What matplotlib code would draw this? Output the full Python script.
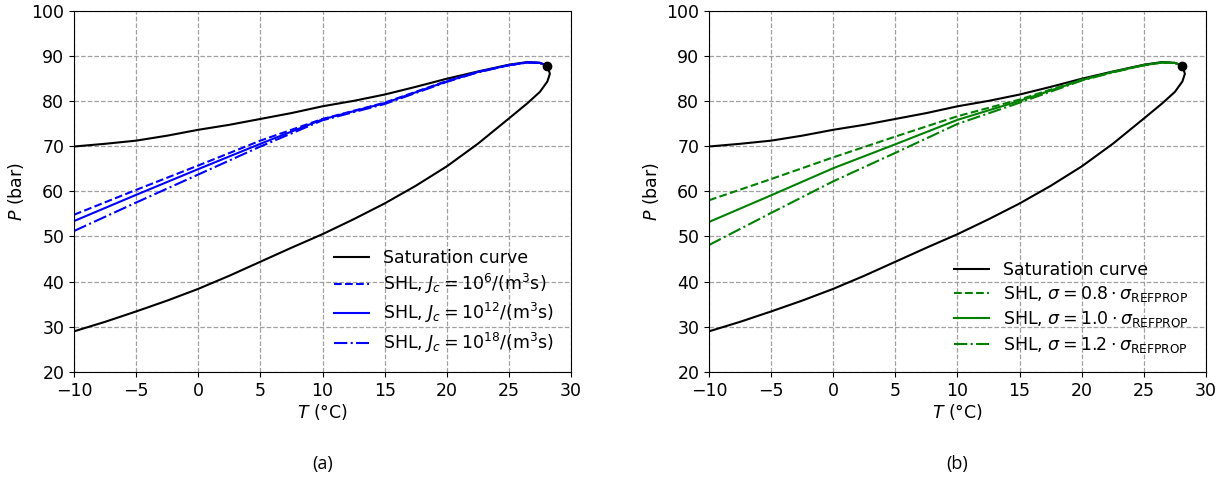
import matplotlib
matplotlib.use("Agg")
import matplotlib.pyplot as plt

# saturation envelope: lower (dew) branch up to the critical point, then upper branch back
sat_T = [-10, -7.5, -5, -2.5, 0, 2.5, 5, 7.5, 10, 12.5, 15, 17.5, 20, 22.5, 25, 26.5, 27.5, 28.1, 28.3, 28.1,
         27.5, 26.5, 25, 22.5, 20, 17.5, 15, 12.5, 10, 7.5, 5, 2.5, 0, -2.5, -5, -7.5, -10]
sat_P = [29.0, 31.1, 33.4, 35.8, 38.4, 41.3, 44.4, 47.5, 50.5, 53.8, 57.3, 61.2, 65.5, 70.5, 76.1, 79.5, 82.0, 84.3, 86.0, 87.8,
         88.4, 88.6, 88.0, 86.5, 84.9, 83.1, 81.4, 80.0, 78.8, 77.3, 76.0, 74.7, 73.6, 72.3, 71.2, 70.5, 69.9]
T_crit = 28.1
P_crit = 87.8

# SHL curves
shl_T = [-10, -5, 0, 5, 10, 15, 20, 22.5, 25, 26.5, 27.5, 28.1]
shl_Jc6 = [54.8, 60.3, 65.7, 71.2, 76.0, 79.6, 84.4, 86.4, 87.9, 88.5, 88.4, 87.8]
shl_Jc12 = [53.4, 59.2, 64.9, 70.5, 75.9, 79.5, 84.3, 86.4, 87.9, 88.5, 88.4, 87.8]
shl_Jc18 = [51.2, 57.5, 63.7, 69.9, 75.7, 79.3, 84.2, 86.3, 87.9, 88.5, 88.4, 87.8]

shl_s08 = [58.0, 62.7, 67.5, 72.1, 76.6, 80.3, 84.7, 86.4, 87.9, 88.5, 88.4, 87.8]
shl_s10 = [53.2, 59.1, 65.1, 70.4, 75.8, 80.0, 84.6, 86.4, 87.9, 88.5, 88.4, 87.8]
shl_s12 = [48.1, 55.2, 62.2, 68.5, 74.9, 79.6, 84.5, 86.3, 87.9, 88.5, 88.4, 87.8]

jc_labels = [r"SHL, $J_c = 10^{6}/(\mathrm{m}^3\mathrm{s})$",
             r"SHL, $J_c = 10^{12}/(\mathrm{m}^3\mathrm{s})$",
             r"SHL, $J_c = 10^{18}/(\mathrm{m}^3\mathrm{s})$"]
sigma_labels = [r"SHL, $\sigma = 0.8 \cdot \sigma_{\mathrm{REFPROP}}$",
                r"SHL, $\sigma = 1.0 \cdot \sigma_{\mathrm{REFPROP}}$",
                r"SHL, $\sigma = 1.2 \cdot \sigma_{\mathrm{REFPROP}}$"]
styles = ["--", "-", "-."]

plt.rcParams["font.size"] = 12.5

fig = plt.figure(figsize=(12.25, 4.84), dpi=100)
ax1 = fig.add_axes([74 / 1225, 1 - 372 / 484, 497 / 1225, 361.5 / 484])
ax2 = fig.add_axes([709 / 1225, 1 - 372 / 484, 497 / 1225, 361.5 / 484])


def draw(ax, curves, labels, color, caption):
    ax.plot(sat_T, sat_P, color="black", lw=1.5, label="Saturation curve")
    for P, ls, lab in zip(curves, styles, labels):
        ax.plot(shl_T, P, ls, color=color, lw=1.5, label=lab)
    ax.plot([T_crit], [P_crit], "o", color="black", ms=6)
    ax.set_xlim(-10, 30)
    ax.set_ylim(20, 100)
    ax.set_xticks(range(-10, 31, 5))
    ax.set_yticks(range(20, 101, 10))
    ax.grid(True, ls="--", color="#a0a0a0", lw=0.9)
    ax.set_axisbelow(True)
    ax.set_xlabel(r"$T$ (°C)", labelpad=2)
    ax.set_ylabel(r"$P$ (bar)")
    ax.legend(loc="lower right", frameon=False, fontsize=12.5, handlelength=2.0,
              labelspacing=0.3, borderaxespad=0.6)
    x0, x1 = ax.get_position().x0, ax.get_position().x1
    fig.text((x0 + x1) / 2, 0.03, caption, ha="center", fontsize=13, family="Open Sans")


draw(ax1, [shl_Jc6, shl_Jc12, shl_Jc18], jc_labels, "blue", "(a)")
draw(ax2, [shl_s08, shl_s10, shl_s12], sigma_labels, "green", "(b)")

fig.savefig("out.png", dpi=100)
